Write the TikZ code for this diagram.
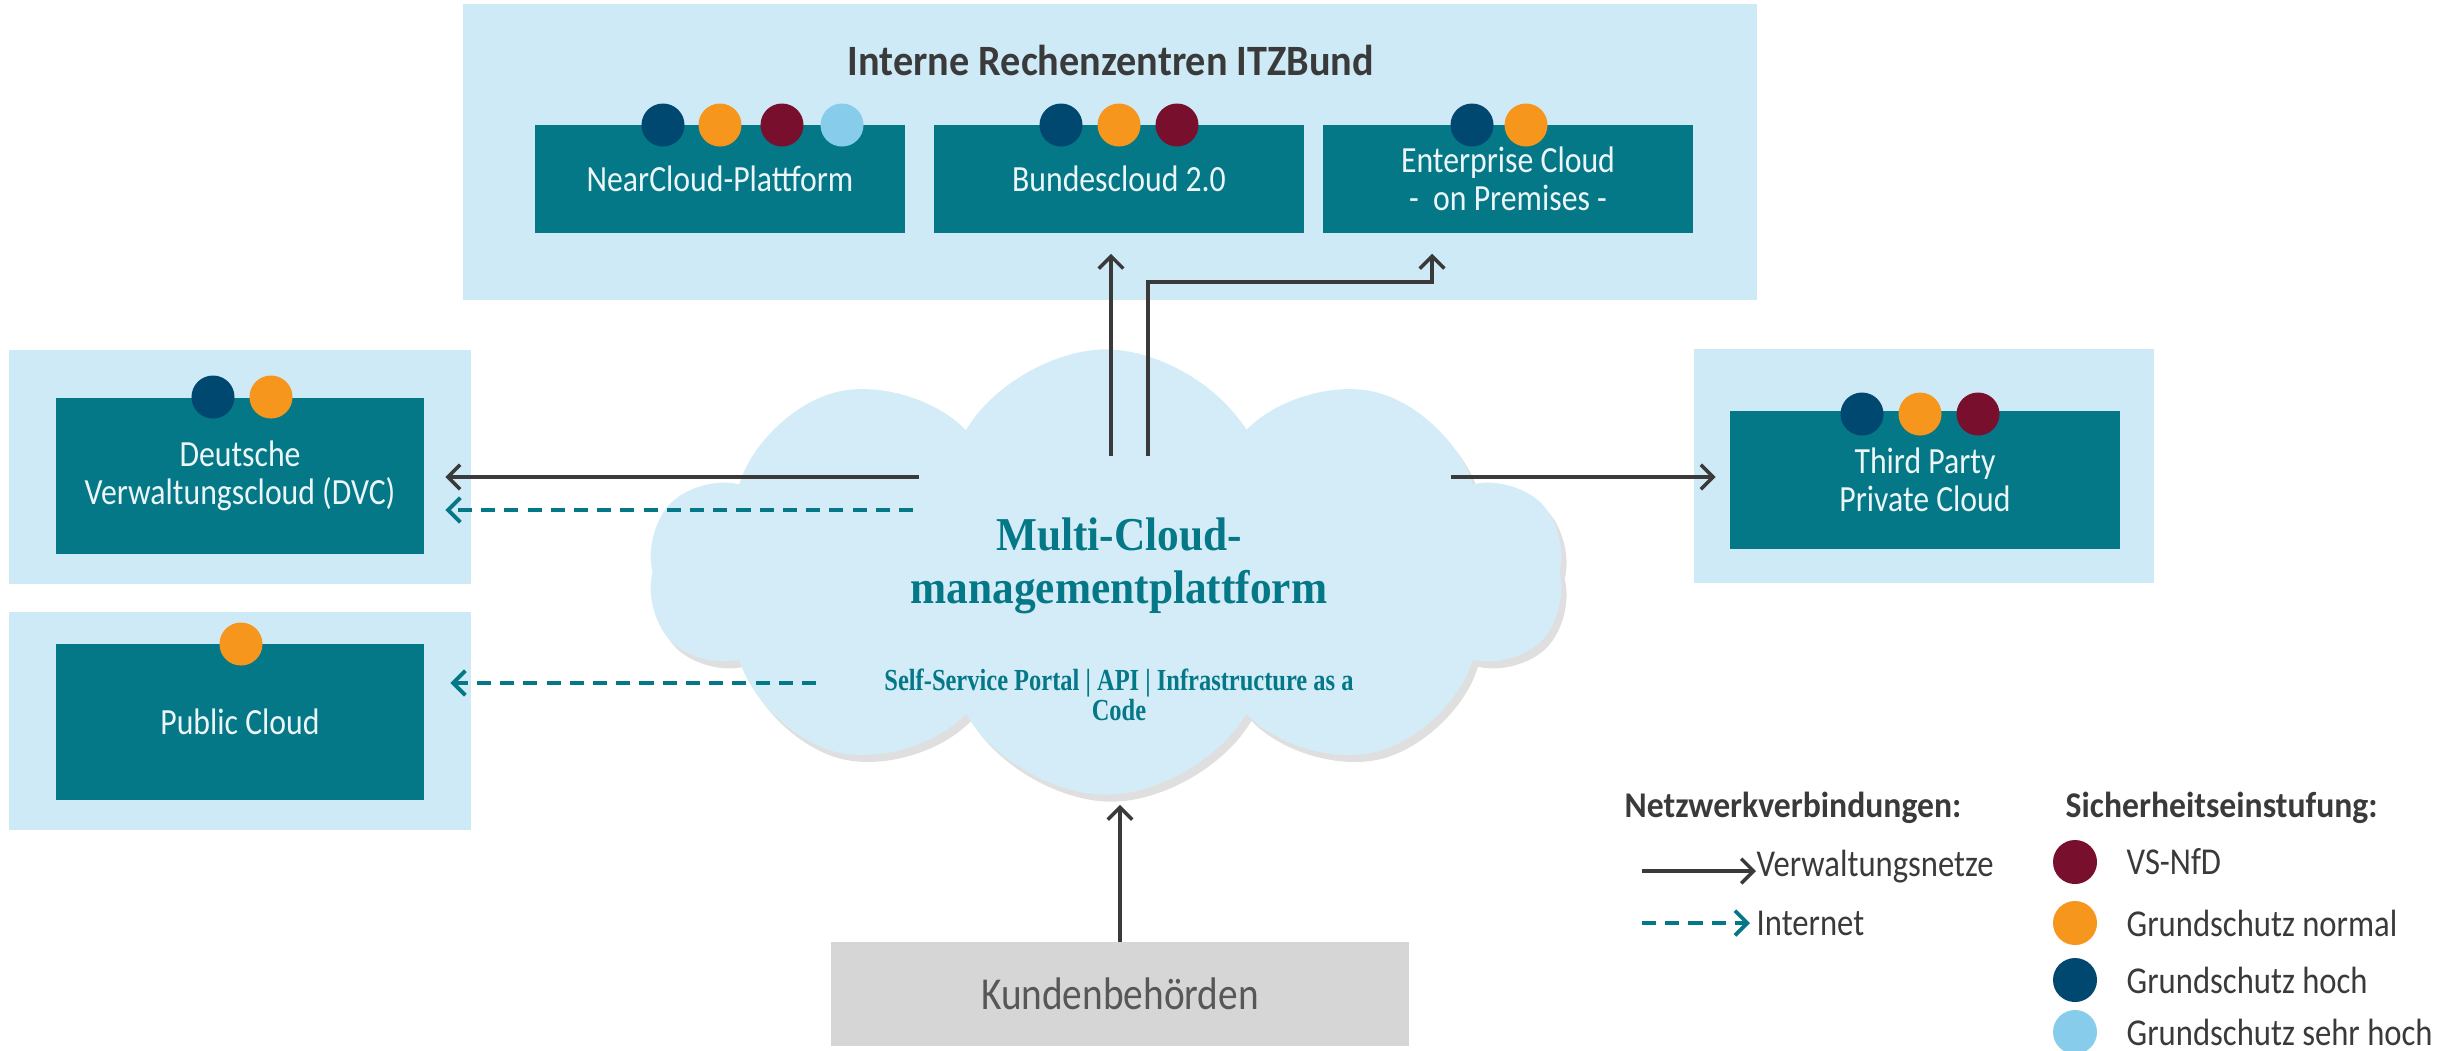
\documentclass[tikz,border=0pt]{standalone}
\usepackage{fontspec}
\setsansfont{Carlito}[FakeStretch=0.86]
\newfontfamily\headsans{Carlito}[FakeStretch=0.93]
\newfontfamily\mcmserif{Liberation Serif}[FakeStretch=0.92]
\newfontfamily\mcmcond{Liberation Serif}[FakeStretch=0.8]
\usetikzlibrary{arrows.meta,shapes.symbols,shadows}
\definecolor{itzteal}{RGB}{4,120,135}
\definecolor{itzlight}{RGB}{206,234,246}
\definecolor{cloudfill}{RGB}{212,236,247}
\definecolor{boxtext}{RGB}{236,246,248}
\definecolor{darktext}{RGB}{58,58,58}
\definecolor{kbgray}{RGB}{214,214,214}
\definecolor{vsnfd}{RGB}{119,15,45}
\definecolor{gsnormal}{RGB}{247,150,28}
\definecolor{gshoch}{RGB}{0,72,112}
\definecolor{gssehrhoch}{RGB}{135,205,235}

\begin{document}
\begin{tikzpicture}[x=0.01cm,y=-0.01cm,
  bg/.style={fill=itzlight,inner sep=0pt},
  box/.style={fill=itzteal,text=boxtext,align=center,inner sep=0pt,
    font=\sffamily\fontsize{10.5}{10.8}\selectfont},
  dot/.style={circle,inner sep=0pt,minimum size=0.43cm},
  vn/.style={draw=darktext,line width=1pt,-{Straight Barb[length=3.5pt,width=7pt]}},
  inet/.style={draw=itzteal,line width=1.1pt,dash pattern=on 4pt off 2.6pt,
    -{Straight Barb[length=3.5pt,width=7pt]}},
  lbl/.style={anchor=west,text=darktext,inner sep=0pt,font=\sffamily\fontsize{10.8}{12}\selectfont},
  head/.style={anchor=west,text=darktext,inner sep=0pt,font=\headsans\bfseries\fontsize{10.3}{12}\selectfont}]
  \useasboundingbox (0,0) rectangle (2445,1050);
  % Rechenzentren
  \node[bg,minimum width=12.94cm,minimum height=2.95cm] (itz) at (1110,152) {};
  \node[text=darktext,font=\headsans\bfseries\fontsize{12.3}{13}\selectfont] (itzt) at (1111,60) {Interne Rechenzentren ITZBund};
  \node[box,minimum width=3.69cm,minimum height=1.08cm] (ncp) at (720,179) {NearCloud-Plattform};
  \node[box,minimum width=3.7cm,minimum height=1.08cm] (bc) at (1119,179) {Bundescloud 2.0};
  \node[box,minimum width=3.69cm,minimum height=1.08cm] (ec) at (1508,179) {Enterprise Cloud\\-~ on Premises -};
  % seitliche Clouds
  \node[bg,minimum width=4.61cm,minimum height=2.34cm] (dvcbg) at (240,467) {};
  \node[box,minimum width=3.67cm,minimum height=1.56cm] (dvc) at (240,476) {Deutsche\\Verwaltungscloud (DVC)};
  \node[bg,minimum width=4.61cm,minimum height=2.18cm] (pubbg) at (240,721) {};
  \node[box,minimum width=3.67cm,minimum height=1.56cm] (pub) at (240,722) {Public Cloud};
  \node[bg,minimum width=4.59cm,minimum height=2.33cm] (tpbg) at (1924,466) {};
  \node[box,minimum width=3.89cm,minimum height=1.37cm] (tp) at (1925,480) {Third Party\\Private Cloud};
  % Einstufungen
  \foreach \n/\x/\y/\c in {n1/663/125/gshoch, n2/720/125/gsnormal, n3/782/125/vsnfd, n4/842/125/gssehrhoch,
      b1/1061/125/gshoch, b2/1119/125/gsnormal, b3/1177/125/vsnfd,
      e1/1472/125/gshoch, e2/1526/125/gsnormal,
      d1/213/397/gshoch, d2/271/397/gsnormal, p1/241/644/gsnormal,
      t1/1862/414/gshoch, t2/1920/414/gsnormal, t3/1978/414/vsnfd}
    \node[dot,fill=\c] (dot\n) at (\x,\y) {};
  % Plattform
  \node[cloud,cloud puffs=10,cloud puff arc=120,aspect=2.1,fill=cloudfill,
    minimum width=9.15cm,minimum height=4.45cm,
    drop shadow={opacity=0.25,shadow xshift=1.5pt,shadow yshift=-2pt}] (mcm) at (1106,572) {};
  \node[text=itzteal,align=center,font=\mcmserif\bfseries\fontsize{13.4}{15}\selectfont] (mcmt) at (1119,566) {Multi-Cloud-\\managementplattform};
  \node[text=itzteal,align=center,font=\mcmcond\bfseries\fontsize{8.7}{8.5}\selectfont] (mcms) at (1119,695) {Self-Service Portal | API | Infrastructure as a\\Code};
  \node[fill=kbgray,minimum width=5.78cm,minimum height=1.03cm,text=darktext!85,
    font=\sffamily\fontsize{13}{15}\selectfont] (kb) at (1120,994) {Kundenbehörden};
  % Verbindungen
  \coordinate (a1) at (1111,456);
  \coordinate (a2) at (1148,456);
  \coordinate (ecb) at (1432,282);
  \draw[vn,shorten >=0.2cm] (a1) -- (a1 |- bc.south);
  \draw[vn,shorten >=0.2cm] (a2) |- (ecb) -- (ecb |- ec.south);
  \coordinate (l1) at (919,477);
  \coordinate (l2) at (913,510);
  \coordinate (l3) at (816,683);
  \draw[vn,shorten >=0.21cm] (l1) -- (l1 -| dvc.east);
  \draw[inet,shorten >=0.21cm] (l2) -- (l2 -| dvc.east);
  \draw[inet,shorten >=0.26cm] (l3) -- (l3 -| pub.east);
  \coordinate (r1) at (1451,477);
  \draw[vn,shorten >=0.14cm] (r1) -- (r1 -| tp.west);
  \draw[vn] (kb.north) -- ++(0,-137);
  % Legende
  \node[head] (nwv) at (1624,808) {Netzwerkverbindungen:};
  \node[head] (sei) at (2065,808) {Sicherheitseinstufung:};
  \coordinate (v0) at (1642,871);
  \node[lbl] (vwn) at (1756,867) {Verwaltungsnetze};
  \draw[vn] (v0) -- (v0 -| vwn.west);
  \coordinate (i0) at (1642,923);
  \node[lbl] (int) at (1756,923) {Internet};
  \draw[inet,shorten >=0.06cm] (i0) -- (i0 -| int.west);
  \foreach \n/\y/\c/\txt in {1/862/vsnfd/VS-NfD, 2/923/gsnormal/Grundschutz normal,
      3/980/gshoch/Grundschutz hoch, 4/1032/gssehrhoch/Grundschutz sehr hoch}
    \node[dot,fill=\c,minimum size=0.44cm] (ld\n) at (2075,\y) {}
      node[lbl] (lt\n) at (2126,\y) {\txt};
\end{tikzpicture}
\end{document}
